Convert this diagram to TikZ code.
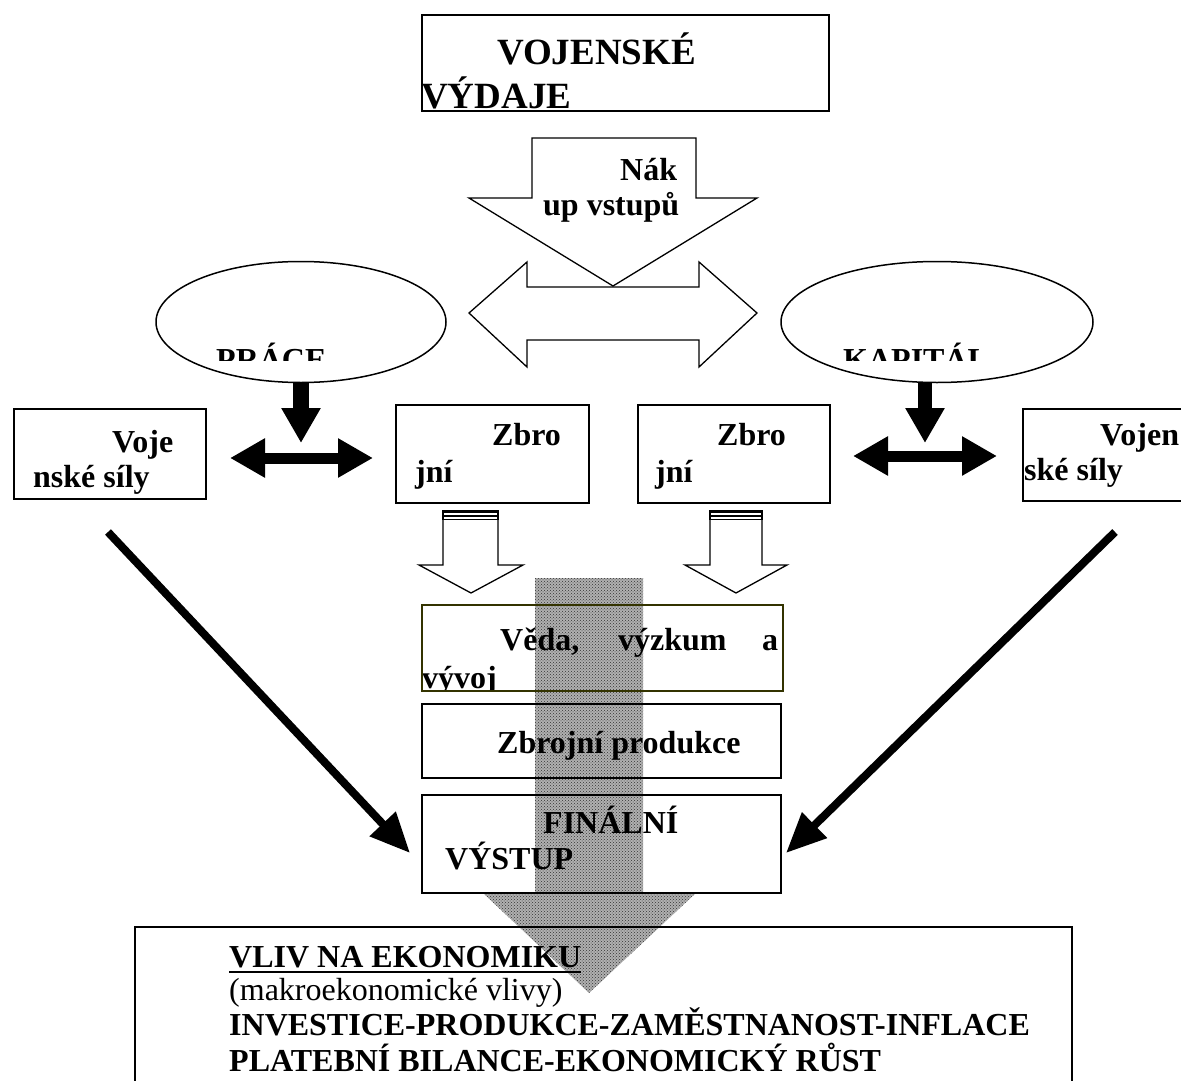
\documentclass[tikz,border=0pt]{standalone}
\usepackage{fontspec}
\setmainfont{Liberation Serif}
\usetikzlibrary{arrows.meta,shapes.geometric,patterns}
\definecolor{olivebox}{RGB}{51,51,0}
\begin{document}
\begin{tikzpicture}[x=1pt,y=-1pt,
  boxnode/.style={draw,line width=1.6pt,inner sep=0pt,anchor=north west},
  txt/.style={anchor=base west,inner sep=0pt,font=\fontsize{32}{38}\selectfont\bfseries},
  bigtxt/.style={anchor=base west,inner sep=0pt,font=\fontsize{37}{44}\selectfont\bfseries},
  regtxt/.style={anchor=base west,inner sep=0pt,font=\fontsize{32}{38}\selectfont},
  oval/.style={draw,ellipse,line width=1.5pt,inner sep=0pt},
  hollow/.style={draw,line width=1.3pt,fill=white,line join=miter},
  harrow/.style={line width=11pt,{Triangle[length=35pt,width=37pt]}-{Triangle[length=35pt,width=37pt]}},
  varrow/.style={line width=16pt,-{Triangle[length=35pt,width=37pt]}},
  darrow/.style={line width=8pt,-{Triangle[length=40pt,width=34pt]}}]
\useasboundingbox (0,0) rectangle (1181,1081);
\clip (0,0) rectangle (1181,1081);

% big shaded arrow (behind)
\fill[gray!62] (535,578) -- (643,578) -- (643,892) -- (697,892) -- (589,993) -- (482,892) -- (535,892) -- cycle;
\fill[pattern=crosshatch dots,pattern color=black!80] (535,578) -- (643,578) -- (643,892) -- (697,892) -- (589,993) -- (482,892) -- (535,892) -- cycle;

% top box
\node[bigtxt] (t1) at (497,65) {VOJENSKÉ};
\node[bigtxt] (t2) at (421,108) {VÝDAJE};
\node[boxnode,minimum width=407pt,minimum height=96pt] (top) at (421,14) {};

% hollow block arrows
\draw[hollow] (532,138) -- (696,138) -- (696,198) -- (757,198) -- (613,286) -- (469,198) -- (532,198) -- cycle;
\node[txt] (nak1) at (620,180) {Nák};
\node[txt] (nak2) at (543,215) {up vstupů};
\draw[hollow] (469,313) -- (527,262) -- (527,287) -- (699,287) -- (699,262) -- (757,313) -- (699,367) -- (699,340) -- (527,340) -- (527,367) -- cycle;

% ellipses
\node[oval,minimum width=290pt,minimum height=121pt] (prace) at (301,322) {};
\node[oval,minimum width=312pt,minimum height=121pt] (kapital) at (937,322) {};
\begin{scope}
\clip (0,0) rectangle (1181,360);
\node[txt] (pt) at (216,370) {PRÁCE};
\node[txt] (kt) at (843,370) {KAPITÁL};
\end{scope}

% row of boxes
\node[boxnode,minimum width=192pt,minimum height=90pt] (vl) at (13,408) {};
\node[txt] at (112,452) {Voje};
\node[txt] at (33,487) {nské síly};
\node[boxnode,minimum width=193pt,minimum height=98pt] (z1) at (395,404) {};
\node[txt] at (492,445) {Zbro};
\node[txt] at (415,482) {jní};
\node[boxnode,minimum width=192pt,minimum height=98pt] (z2) at (637,404) {};
\node[txt] at (717,445) {Zbro};
\node[txt] at (655,482) {jní};
\node[boxnode,minimum width=200pt,minimum height=92pt] (vr) at (1022,408) {};
\node[txt] at (1100,445) {Vojen};
\node[txt] at (1024,480) {ské síly};

% thick arrows
\coordinate (p1) at (301,382);
\coordinate (p2) at (301,443);
\draw[varrow] (p1) -- (p2);
\coordinate (k1) at (925,382);
\coordinate (k2) at (925,443);
\draw[varrow,line width=14pt] (k1) -- (k2);
\coordinate (h1a) at (230,458);
\coordinate (h1b) at (373,458);
\draw[harrow] (h1a) -- (h1b);
\coordinate (h2a) at (853,456);
\coordinate (h2b) at (997,456);
\draw[harrow] (h2a) -- (h2b);

% small striped hollow arrows
\draw[hollow] (443,519.5) -- (443,565) -- (419,565) -- (471,593) -- (523,565) -- (498,565) -- (498,519.5);
\draw[line width=1.3pt] (443,510) -- (443,519.5) (498,510) -- (498,519.5);
\draw[line width=3pt] (443,511.5) -- (498,511.5);
\draw[line width=1.2pt] (443,516) -- (498,516) (443,519.5) -- (498,519.5);
\draw[hollow] (710,519.5) -- (710,565) -- (685,565) -- (736,593) -- (787,565) -- (762,565) -- (762,519.5);
\draw[line width=1.3pt] (710,510) -- (710,519.5) (762,510) -- (762,519.5);
\draw[line width=3pt] (710,511.5) -- (762,511.5);
\draw[line width=1.2pt] (710,516) -- (762,516) (710,519.5) -- (762,519.5);

% middle column
\begin{scope}
\clip (421,604) rectangle (782,690);
\node[txt] at (500,650) {Věda,};
\node[txt] at (618,650) {výzkum};
\node[txt] at (762,650) {a};
\node[txt] at (422,688) {vývoj};
\end{scope}
\node[boxnode,draw=olivebox,minimum width=361pt,minimum height=86pt] (veda) at (421,604) {};
\node[boxnode,minimum width=359pt,minimum height=74pt] (zp) at (421,703) {};
\node[txt] at (497,753) {Zbrojní produkce};
\node[boxnode,line width=2.2pt,minimum width=359pt,minimum height=98pt] (fin) at (421,794) {};
\node[txt] at (543,833) {FINÁLNÍ};
\node[txt] at (445,869) {VÝSTUP};

% diagonal arrows
\coordinate (dl1) at (108,532);
\coordinate (dl2) at (410,853);
\draw[darrow] (dl1) -- (dl2);
\coordinate (dr1) at (1115,532);
\coordinate (dr2) at (786,853);
\draw[darrow] (dr1) -- (dr2);

% bottom box
\node[boxnode,minimum width=937pt,minimum height=200pt] (econ) at (134,926) {};
\node[txt] (vliv) at (229,967) {VLIV NA EKONOMIKU};
\draw[line width=2.6pt] ([yshift=-5pt]vliv.base west) -- ([yshift=-5pt]vliv.base east);
\node[regtxt] at (229,1000) {(makroekonomické vlivy)};
\node[txt] at (229,1035) {INVESTICE-PRODUKCE-ZAMĚSTNANOST-INFLACE};
\node[txt] at (229,1071) {PLATEBNÍ BILANCE-EKONOMICKÝ RŮST};
\end{tikzpicture}
\end{document}
